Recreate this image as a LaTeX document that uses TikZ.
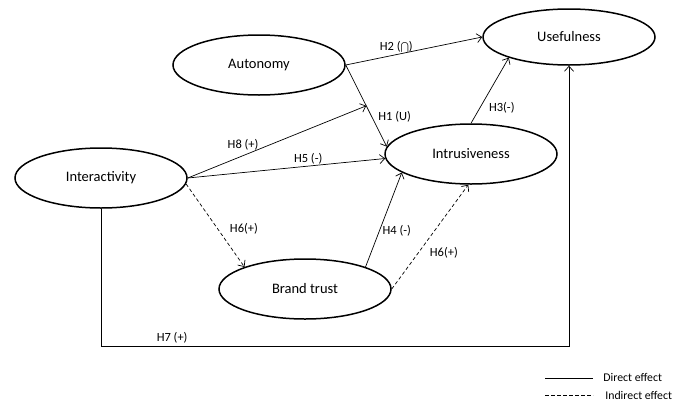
\documentclass[tikz,border=0pt]{standalone}
\usepackage{fontspec}
\setmainfont{Carlito}
\usetikzlibrary{arrows.meta,calc,shapes.geometric}

\begin{document}
\begin{tikzpicture}[x=1pt,y=-1pt,->,>={Straight Barb[length=5pt,width=9pt]},line width=0.7pt,
  main node/.style={ellipse,draw,line width=1.5pt,minimum width=172pt,minimum height=60pt,inner sep=0pt,font=\fontsize{14.5}{16}\selectfont},
  hyp label/.style={font=\fontsize{12.5}{14}\selectfont,inner sep=2pt},
  legend text/.style={anchor=west,font=\fontsize{11.8}{13}\selectfont,inner sep=2pt},
  indirect/.style={dash pattern=on 3.5pt off 2.5pt}]

  \useasboundingbox (0,0) rectangle (676,402);

  \node[main node] (auto) at (259,65) {Autonomy};
  \node[main node,minimum height=56pt] (use) at (569,37) {Usefulness};
  \node[main node] (intr) at (471,154) {Intrusiveness};
  \node[main node] (inter) at (101,178) {Interactivity};
  \node[main node] (brand) at (305,289) {Brand trust};

  \coordinate (h1 mid) at ($(auto.east)!0.5!(intr.175)$);
  \coordinate (h7 turn) at (use.south |- 0,346);

     \path
       (auto.east) edge node[hyp label,above,pos=0.37] {H2 ($\bigcap$)} (use.west)
        (auto.east) edge node[hyp label,right=4pt,pos=0.64] {H1 (U)} (intr.175)
        (inter.east) edge node[hyp label,above=3pt,pos=0.31] {H8 (+)} (h1 mid)
        (inter.east) edge node[hyp label,above,pos=0.61] {H5 (-)} (intr.183)
        (brand.20) edge node[hyp label,right=1pt,pos=0.38] {H4 (-)} (intr.195)
        (intr.north) edge node[hyp label,right=7pt,pos=0.23] {H3(-)} (use.199)    ;

     \path[indirect]
       (inter.-4) edge node[hyp label,right=10pt,pos=0.54] {H6(+)} (brand.160)
        (brand.east) edge node[hyp label,right=9pt,pos=0.35] {H6(+)} (intr.265)    ;

  \draw (inter.south) |- node[hyp label,above,pos=0.576] {H7 (+)} (h7 turn) -- (use.south);

  % legend
  \node[legend text] (direct) at (601,377) {Direct effect};
  \node[legend text] (indirect) at (603,395) {Indirect effect};
  \coordinate (direct start) at (545,378);
  \coordinate (indirect start) at (545,395);
  \draw[-,shorten >=8pt] (direct start) -- (direct.west |- direct start);
  \draw[-,indirect,shorten >=10pt] (indirect start) -- (indirect.west);

\end{tikzpicture}
\end{document}
